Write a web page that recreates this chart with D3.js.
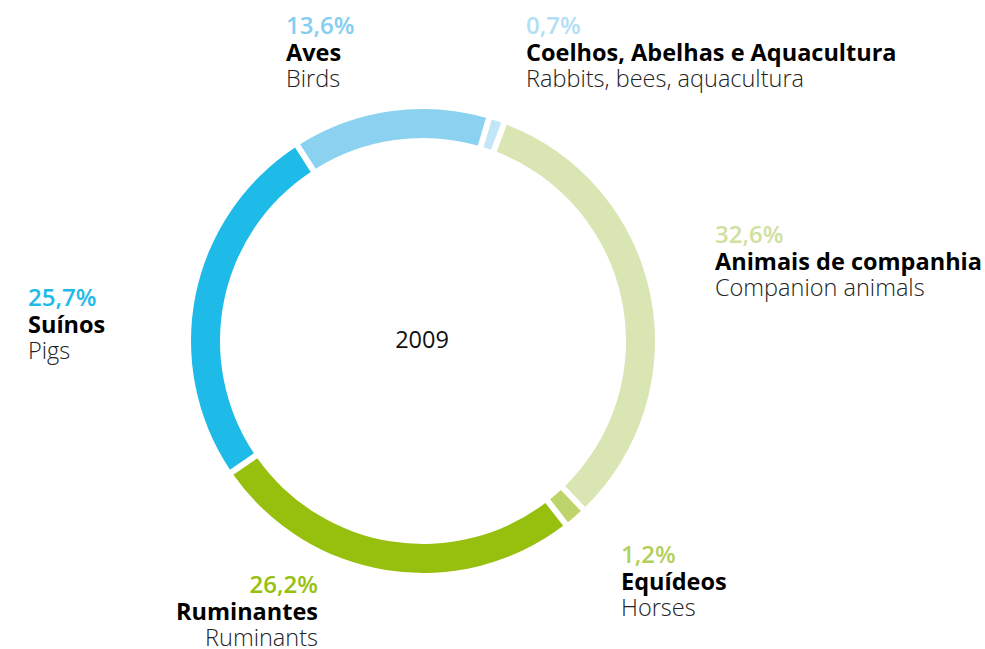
<!DOCTYPE html>
<html>
<head>
<meta charset="utf-8">
<script src="https://cdn.jsdelivr.net/npm/d3@7/dist/d3.min.js"></script>
<style>
  body { margin: 0; background: #fff; }
  svg text { font-family: "Open Sans", sans-serif; }
</style>
</head>
<body>
<div class="chart"></div>
<script>
// data (clockwise from the top)
var labelsPt = ["Coelhos, Abelhas e Aquacultura", "Animais de companhia", "Equídeos", "Ruminantes", "Suínos", "Aves"];
var labelsEn = ["Rabbits, bees, aquacultura", "Companion animals", "Horses", "Ruminants", "Pigs", "Birds"];
var values = [0.7, 32.6, 1.2, 26.2, 25.7, 13.6];
var valueLabels = ["0,7%", "32,6%", "1,2%", "26,2%", "25,7%", "13,6%"];
var sliceColors = ["#c2e5f7", "#d9e6b4", "#bdd46b", "#97bf0e", "#1fbbe8", "#8ad2f0"];
var pctColors = ["#b3def5", "#d0e0a0", "#b4cf5c", "#97bf0e", "#1fbbe8", "#84cff0"];
var centerLabel = "2009";

// label placement (layout only)
var labelPos = [
  {x: 526, y: 34, anchor: "start"},
  {x: 715, y: 243, anchor: "start"},
  {x: 621, y: 563, anchor: "start"},
  {x: 318, y: 593, anchor: "end"},
  {x: 28,  y: 306, anchor: "start"},
  {x: 286, y: 34, anchor: "start"}
];

var width = 985, height = 649;
var cx = 423, cy = 341, outerR = 232, innerR = 203;

var svg = d3.select("div.chart").append("svg")
    .attr("width", width)
    .attr("height", height);

var data = values.map(function(v, i) {
  return {value: v, pt: labelsPt[i], en: labelsEn[i], pct: valueLabels[i], color: sliceColors[i], pctColor: pctColors[i]};
});

var start = 16.5 * Math.PI / 180;
var pie = d3.pie()
    .sort(null)
    .value(function(d) { return d.value; })
    .startAngle(start)
    .endAngle(start + 2 * Math.PI)
    .padAngle(6 / outerR);

var arc = d3.arc().innerRadius(innerR).outerRadius(outerR).padRadius(outerR);

var g = svg.append("g").attr("transform", "translate(" + cx + "," + cy + ")");

g.selectAll("path")
  .data(pie(data))
  .enter().append("path")
    .attr("d", arc)
    .attr("fill", function(d) { return d.data.color; });

g.append("text")
    .attr("text-anchor", "middle")
    .attr("x", -1)
    .attr("y", 7)
    .style("font-size", "23.5px")
    .style("fill", "#111")
    .text(centerLabel);

// labels
var lab = svg.selectAll("g.label")
  .data(data)
  .enter().append("g")
    .attr("class", "label")
    .attr("transform", function(d, i) { return "translate(" + labelPos[i].x + "," + labelPos[i].y + ")"; });

lab.append("text")
    .attr("text-anchor", function(d, i) { return labelPos[i].anchor; })
    .style("font-size", "24px")
    .style("font-weight", 600)
    .style("fill", function(d) { return d.pctColor; })
    .text(function(d) { return d.pct; });

lab.append("text")
    .attr("text-anchor", function(d, i) { return labelPos[i].anchor; })
    .attr("y", 26.5)
    .style("font-size", "23.5px")
    .style("font-weight", 700)
    .style("fill", "#000")
    .text(function(d) { return d.pt; });

lab.append("text")
    .attr("text-anchor", function(d, i) { return labelPos[i].anchor; })
    .attr("y", 53)
    .style("font-size", "23.5px")
    .style("font-weight", 300)
    .style("fill", "#222")
    .text(function(d) { return d.en; });
</script>
</body>
</html>
